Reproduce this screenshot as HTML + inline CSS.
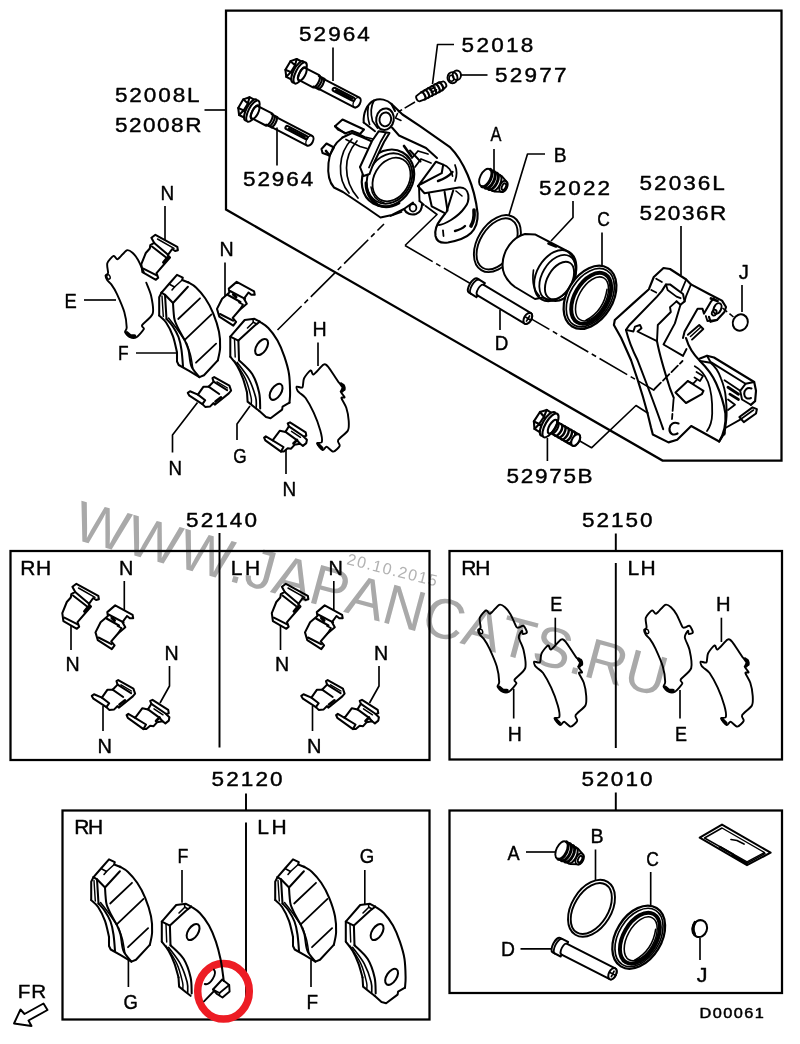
<!DOCTYPE html>
<html><head><meta charset="utf-8"><title>52008 brake caliper diagram</title>
<style>
html,body{margin:0;padding:0;background:#fff}
svg{display:block;will-change:transform}
svg text{font-family:"Liberation Sans",sans-serif;fill:#000;stroke:none}
svg text.l{stroke:#000;stroke-width:.4px}
</style></head><body>
<svg width="800" height="1044" viewBox="0 0 800 1044" fill="none" stroke="#000" stroke-width="1.80" stroke-linejoin="round" stroke-linecap="round">
<rect x="0" y="0" width="800" height="1044" fill="#fff" stroke="none"/>
<text transform="translate(71,538.5) rotate(15.05)" font-size="57" style="fill:#a9a9a9;font-kerning:none">WWW.JAPANCATS.RU</text>
<text transform="translate(346.1,564) rotate(14.1)" font-size="16" letter-spacing="1.35" style="fill:#b2b2b2;font-kerning:none">20.10.2015</text>
<g style="stroke-width:2.25px" stroke-linejoin="miter" stroke-linecap="butt">
<path d="M226 10.5 L781.5 10.5 L781.5 460.5 L662.5 460.5 L226 209.5Z"/>
<rect x="10.5" y="551" width="419" height="209"/>
<rect x="449.5" y="551" width="332.5" height="208.5"/>
<rect x="62.5" y="810.5" width="367" height="209"/>
<rect x="449.5" y="810.5" width="332.5" height="182.5"/>
</g>
<g style="stroke-width:1.95px" stroke-linecap="butt">
<path d="M219.5 533 L219.5 747.5"/>
<path d="M615.8 533.5 L615.8 551"/>
<path d="M615.8 563 L615.8 748"/>
<path d="M246 793.5 L246 810.5"/>
<path d="M246 822.5 L246 1005"/>
<path d="M615.8 792.5 L615.8 810.5"/>
</g>
<text class="l" transform="translate(300.00,40.50) scale(1.160,1)" x="-0.78" y="0" font-size="19.42" letter-spacing="1.72">52964</text>
<text class="l" transform="translate(244.00,186.20) scale(1.160,1)" x="-0.78" y="0" font-size="19.42" letter-spacing="1.61">52964</text>
<text class="l" transform="translate(115.80,102.30) scale(1.160,1)" x="-0.78" y="0" font-size="19.42" letter-spacing="1.65">52008L</text>
<text class="l" transform="translate(115.80,132.20) scale(1.160,1)" x="-0.78" y="0" font-size="19.42" letter-spacing="1.32">52008R</text>
<text class="l" transform="translate(462.50,51.60) scale(1.160,1)" x="-0.78" y="0" font-size="19.42" letter-spacing="1.98">52018</text>
<text class="l" transform="translate(496.00,82.20) scale(1.160,1)" x="-0.78" y="0" font-size="19.42" letter-spacing="1.92">52977</text>
<text class="l" transform="translate(490.50,141.20) scale(0.843,1)" x="-0.10" y="0" font-size="19.42" letter-spacing="0.00">A</text>
<text class="l" transform="translate(555.20,162.40) scale(0.991,1)" x="-1.55" y="0" font-size="19.42" letter-spacing="0.00">B</text>
<text class="l" transform="translate(540.00,195.20) scale(1.160,1)" x="-0.78" y="0" font-size="19.42" letter-spacing="1.82">52022</text>
<text class="l" transform="translate(598.00,225.80) scale(0.899,1)" x="-0.97" y="0" font-size="19.42" letter-spacing="0.00">C</text>
<text class="l" transform="translate(640.50,190.20) scale(1.160,1)" x="-0.78" y="0" font-size="19.42" letter-spacing="1.72">52036L</text>
<text class="l" transform="translate(640.50,219.80) scale(1.160,1)" x="-0.78" y="0" font-size="19.42" letter-spacing="1.36">52036R</text>
<text class="l" transform="translate(739.00,279.00) scale(1.042,1)" x="-0.29" y="0" font-size="19.42" letter-spacing="0.00">J</text>
<text class="l" transform="translate(496.30,350.40) scale(0.969,1)" x="-1.55" y="0" font-size="19.42" letter-spacing="0.00">D</text>
<text class="l" transform="translate(507.50,482.50) scale(1.160,1)" x="-0.78" y="0" font-size="19.42" letter-spacing="1.45">52975B</text>
<text class="l" transform="translate(162.00,200.00) scale(0.975,1)" x="-1.55" y="0" font-size="19.42" letter-spacing="0.00">N</text>
<text class="l" transform="translate(221.00,256.20) scale(1.011,1)" x="-1.55" y="0" font-size="19.42" letter-spacing="0.00">N</text>
<text class="l" transform="translate(66.00,308.00) scale(0.945,1)" x="-1.55" y="0" font-size="19.42" letter-spacing="0.00">E</text>
<text class="l" transform="translate(119.50,360.40) scale(0.893,1)" x="-1.55" y="0" font-size="19.42" letter-spacing="0.00">F</text>
<text class="l" transform="translate(314.00,336.00) scale(1.011,1)" x="-1.55" y="0" font-size="19.42" letter-spacing="0.00">H</text>
<text class="l" transform="translate(234.00,462.50) scale(0.888,1)" x="-0.97" y="0" font-size="19.42" letter-spacing="0.00">G</text>
<text class="l" transform="translate(170.00,475.00) scale(0.965,1)" x="-1.55" y="0" font-size="19.42" letter-spacing="0.00">N</text>
<text class="l" transform="translate(284.00,496.00) scale(0.975,1)" x="-1.55" y="0" font-size="19.42" letter-spacing="0.00">N</text>
<text class="l" transform="translate(187.00,527.00) scale(1.160,1)" x="-0.78" y="0" font-size="19.42" letter-spacing="1.77">52140</text>
<text class="l" transform="translate(22.00,575.40) scale(1.080,1)" x="-1.55" y="0" font-size="19.42" letter-spacing="0.57">RH</text>
<text class="l" transform="translate(232.30,575.40) scale(1.080,1)" x="-1.55" y="0" font-size="19.42" letter-spacing="2.59">LH</text>
<text class="l" transform="translate(120.70,575.00) scale(1.021,1)" x="-1.55" y="0" font-size="19.42" letter-spacing="0.00">N</text>
<text class="l" transform="translate(67.00,671.00) scale(1.011,1)" x="-1.55" y="0" font-size="19.42" letter-spacing="0.00">N</text>
<text class="l" transform="translate(166.00,660.00) scale(1.011,1)" x="-1.55" y="0" font-size="19.42" letter-spacing="0.00">N</text>
<text class="l" transform="translate(99.20,753.00) scale(1.030,1)" x="-1.55" y="0" font-size="19.42" letter-spacing="0.00">N</text>
<text class="l" transform="translate(330.20,575.00) scale(1.021,1)" x="-1.55" y="0" font-size="19.42" letter-spacing="0.00">N</text>
<text class="l" transform="translate(276.50,671.00) scale(1.011,1)" x="-1.55" y="0" font-size="19.42" letter-spacing="0.00">N</text>
<text class="l" transform="translate(375.50,660.00) scale(1.011,1)" x="-1.55" y="0" font-size="19.42" letter-spacing="0.00">N</text>
<text class="l" transform="translate(308.70,753.00) scale(1.030,1)" x="-1.55" y="0" font-size="19.42" letter-spacing="0.00">N</text>
<text class="l" transform="translate(583.00,526.60) scale(1.160,1)" x="-0.78" y="0" font-size="19.42" letter-spacing="1.66">52150</text>
<text class="l" transform="translate(462.80,575.30) scale(1.080,1)" x="-1.55" y="0" font-size="19.42" letter-spacing="-1.01">RH</text>
<text class="l" transform="translate(629.20,575.30) scale(1.080,1)" x="-1.55" y="0" font-size="19.42" letter-spacing="1.29">LH</text>
<text class="l" transform="translate(551.70,611.20) scale(0.926,1)" x="-1.55" y="0" font-size="19.42" letter-spacing="0.00">E</text>
<text class="l" transform="translate(509.30,741.00) scale(1.002,1)" x="-1.55" y="0" font-size="19.42" letter-spacing="0.00">H</text>
<text class="l" transform="translate(717.70,611.20) scale(1.039,1)" x="-1.55" y="0" font-size="19.42" letter-spacing="0.00">H</text>
<text class="l" transform="translate(676.40,741.00) scale(0.926,1)" x="-1.55" y="0" font-size="19.42" letter-spacing="0.00">E</text>
<text class="l" transform="translate(212.50,786.20) scale(1.160,1)" x="-0.78" y="0" font-size="19.42" letter-spacing="1.81">52120</text>
<text class="l" transform="translate(76.00,834.40) scale(1.080,1)" x="-1.55" y="0" font-size="19.42" letter-spacing="-1.29">RH</text>
<text class="l" transform="translate(259.00,834.40) scale(1.080,1)" x="-1.55" y="0" font-size="19.42" letter-spacing="2.40">LH</text>
<text class="l" transform="translate(178.80,863.00) scale(0.914,1)" x="-1.55" y="0" font-size="19.42" letter-spacing="0.00">F</text>
<text class="l" transform="translate(124.40,1009.40) scale(0.951,1)" x="-0.97" y="0" font-size="19.42" letter-spacing="0.00">G</text>
<text class="l" transform="translate(360.60,863.20) scale(0.959,1)" x="-0.97" y="0" font-size="19.42" letter-spacing="0.00">G</text>
<text class="l" transform="translate(308.00,1009.20) scale(0.977,1)" x="-1.55" y="0" font-size="19.42" letter-spacing="0.00">F</text>
<text class="l" transform="translate(19.40,998.00) scale(1.080,1)" x="-1.53" y="0" font-size="19.13" letter-spacing="0.91">FR</text>
<text class="l" transform="translate(582.50,786.40) scale(1.160,1)" x="-0.78" y="0" font-size="19.42" letter-spacing="1.81">52010</text>
<text class="l" transform="translate(507.50,860.00) scale(0.936,1)" x="-0.10" y="0" font-size="19.42" letter-spacing="0.00">A</text>
<text class="l" transform="translate(592.00,843.00) scale(1.011,1)" x="-1.55" y="0" font-size="19.42" letter-spacing="0.00">B</text>
<text class="l" transform="translate(647.00,865.60) scale(0.899,1)" x="-0.97" y="0" font-size="19.42" letter-spacing="0.00">C</text>
<text class="l" transform="translate(502.50,956.00) scale(0.995,1)" x="-1.55" y="0" font-size="19.42" letter-spacing="0.00">D</text>
<text class="l" transform="translate(697.00,982.00) scale(1.105,1)" x="-0.29" y="0" font-size="19.42" letter-spacing="0.00">J</text>
<text class="l" transform="translate(700.80,1017.60) scale(1.070,1)" x="-1.22" y="0" font-size="15.22" letter-spacing="1.37" style="stroke:#000;stroke-width:0.5px">D00061</text>
<g style="stroke-width:1.65px" stroke-linecap="butt">
<path d="M333 47.5 L333 81"/>
<path d="M277 127.5 L277 165.5"/>
<path d="M204.5 110 L226 110"/>
<path d="M454 44.5 L437.5 44.5 L432.5 84"/>
<path d="M461 75 L487.5 75"/>
<path d="M494 149 L494 170"/>
<path d="M545 154 L527.5 154 L509 215"/>
<path d="M573 201 L573 217.5 L551 241"/>
<path d="M602 232.5 L602 266"/>
<path d="M681 226 L681 275"/>
<path d="M742 285 L742 312"/>
<path d="M500 310 L500 330"/>
<path d="M547.4 438 L547.4 461"/>
<path d="M165 206 L165 240"/>
<path d="M225 262.5 L225 296"/>
<path d="M84 300 L116 300"/>
<path d="M136 353 L176 353"/>
<path d="M318 342.5 L318 366"/>
<path d="M250 406 L237 424 L237 440"/>
<path d="M197.5 402.5 L172.5 435 L172.5 452.5"/>
<path d="M286 450 L286 474"/>
<path d="M124.3 581 L124.3 610"/>
<path d="M71 625 L71 650"/>
<path d="M169.5 666 L169.5 686 L160 703"/>
<path d="M103 706 L103 731"/>
<path d="M333.8 581 L333.8 610"/>
<path d="M280.5 625 L280.5 650"/>
<path d="M379 666 L379 686 L369.5 703"/>
<path d="M312.5 706 L312.5 731"/>
<path d="M555.3 617.7 L555.3 644.8"/>
<path d="M513.7 688.8 L513.7 718.5"/>
<path d="M721.4 617.7 L721.4 642"/>
<path d="M680 690 L680 718.5"/>
<path d="M182 870 L182 902.8"/>
<path d="M128.4 959 L128.4 987"/>
<path d="M364.8 870 L364.8 904.8"/>
<path d="M311 959.8 L311 987"/>
<path d="M526 852 L556 852"/>
<path d="M595.5 849.5 L595.5 880"/>
<path d="M650.7 872 L650.7 905"/>
<path d="M520.5 948.8 L552.5 948.8"/>
<path d="M700 938 L700 960"/>
</g>
<g style="stroke-width:1.6px" stroke-linecap="butt">
<path d="M277.5 330 L384 224" stroke-dasharray="34 4 5 4"/>
<path d="M405 245.5 L654.5 390.5" stroke-dasharray="32 4 5 4"/>
<path d="M425 205.5 L437 214.5 L405 245.5"/>
<path d="M579 440.5 L591.5 447.8 L636 405.5 L648.4 413.5"/>
<path d="M415 102 L398 112" stroke-dasharray="12 3"/>
<path d="M722.5 308 L733.5 317" stroke-dasharray="6 3"/>
</g>
<ellipse cx="223.5" cy="991.3" rx="25.8" ry="27.8" stroke="#ed1c24" stroke-width="7.5"/>
<path d="M72.4 586.8 L76.4 583.8 L98.3 595.8 L98.9 599.2 L96.1 600 L93.2 598 L88.8 604.2 L91 606.5 L77.5 622.2 L79.2 626.8 L76.9 628.8 L63.4 621.1 L62.3 613.2 L66.8 602 L70.8 597.5 L71.3 594.1 L75.2 591.9Z" stroke-width="2.04"/>
<path d="M75.2 591.9 L88.8 603.6" stroke-width="2.04"/>
<path d="M73 595.5 L86.5 606" stroke-width="2.04"/>
<path d="M64.4 617.6 L77.7 624.3" stroke-width="2.04"/>
<path d="M78.5 588 L95 597.3" stroke-width="1.44"/>
<path d="M84.5 611.5 L88.6 606.5" stroke-width="2.88"/>
<path d="M107.3 612.1 L115.2 605.4 L132.6 614.9 L133.2 618.3 L129.8 618.3 L127 616 L122.5 622.2 L125.3 627.3 L118 633.5 L111.2 641.4 L114.6 645.3 L111.8 649.2 L97.8 640.2 L95.5 632.4 L100.6 622.2 L107.9 616Z" stroke-width="2.04"/>
<path d="M108.5 614.5 L123.6 622.3" stroke-width="2.04"/>
<path d="M106.5 618.5 L119 625.5" stroke-width="2.04"/>
<path d="M98.5 637.5 L111.5 644.2" stroke-width="2.04"/>
<path d="M117.5 626 L121.5 628 L118 633.5" stroke-width="1.68"/>
<path d="M112 618 L114.5 620.5" stroke-width="3.12"/>
<path d="M91.8 695.9 L94 694.2 L101.9 697.6 L107.5 689.7 L112.6 689.7 L117.6 684.6 L116.5 681.2 L118.2 680.1 L133.4 688.6 L135.1 693.6 L132.8 696.4 L118.8 707.7 L117.6 706 L114.2 709.4 L109.2 709.9 L106.4 707.1 L93.4 698.7Z" stroke-width="2.04"/>
<path d="M101.9 697.6 L109.2 703.2 L106.4 707.1" stroke-width="2.04"/>
<path d="M112.6 689.7 L123.2 697" stroke-width="2.04"/>
<path d="M117.6 684.6 L131.1 693.1" stroke-width="2.04"/>
<path d="M121 684.8 L131.5 691" stroke-width="1.44"/>
<path d="M119.5 704.5 L125 700.3" stroke-width="2.64"/>
<path d="M126.6 715 L128.3 713.9 L135.1 717.8 L142.4 708.2 L148 709.4 L151.4 703.8 L150.2 700.9 L152.5 699.8 L168.2 709.9 L168.8 713.3 L166 713.9 L169.4 717.2 L168.8 720.6 L165.4 723.4 L162.6 721.2 L157 722.3 L153.6 726.2 L150.2 725.7 L146.3 729.1 L143.5 729.1 L127.8 717.8Z" stroke-width="2.04"/>
<path d="M135.1 717.8 L146 724.5 L143.5 729.1" stroke-width="2.04"/>
<path d="M148 709.4 L159 717.3 L162.6 721.2" stroke-width="2.04"/>
<path d="M151.4 703.8 L165.5 713.5" stroke-width="2.04"/>
<path d="M154 708.8 L163 714.8" stroke-width="1.44"/>
<path d="M156 721 L159.5 717.5" stroke-width="2.64"/>
<path d="M281.9 586.8 L285.9 583.8 L307.8 595.8 L308.4 599.2 L305.6 600 L302.7 598 L298.3 604.2 L300.5 606.5 L287 622.2 L288.7 626.8 L286.4 628.8 L272.9 621.1 L271.8 613.2 L276.3 602 L280.3 597.5 L280.8 594.1 L284.7 591.9Z" stroke-width="2.04"/>
<path d="M284.7 591.9 L298.3 603.6" stroke-width="2.04"/>
<path d="M282.5 595.5 L296 606" stroke-width="2.04"/>
<path d="M273.9 617.6 L287.2 624.3" stroke-width="2.04"/>
<path d="M288 588 L304.5 597.3" stroke-width="1.44"/>
<path d="M294 611.5 L298.1 606.5" stroke-width="2.88"/>
<path d="M316.8 612.1 L324.7 605.4 L342.1 614.9 L342.7 618.3 L339.3 618.3 L336.5 616 L332 622.2 L334.8 627.3 L327.5 633.5 L320.7 641.4 L324.1 645.3 L321.3 649.2 L307.3 640.2 L305 632.4 L310.1 622.2 L317.4 616Z" stroke-width="2.04"/>
<path d="M318 614.5 L333.1 622.3" stroke-width="2.04"/>
<path d="M316 618.5 L328.5 625.5" stroke-width="2.04"/>
<path d="M308 637.5 L321 644.2" stroke-width="2.04"/>
<path d="M327 626 L331 628 L327.5 633.5" stroke-width="1.68"/>
<path d="M321.5 618 L324 620.5" stroke-width="3.12"/>
<path d="M301.3 695.9 L303.5 694.2 L311.4 697.6 L317 689.7 L322.1 689.7 L327.1 684.6 L326 681.2 L327.7 680.1 L342.9 688.6 L344.6 693.6 L342.3 696.4 L328.3 707.7 L327.1 706 L323.7 709.4 L318.7 709.9 L315.9 707.1 L302.9 698.7Z" stroke-width="2.04"/>
<path d="M311.4 697.6 L318.7 703.2 L315.9 707.1" stroke-width="2.04"/>
<path d="M322.1 689.7 L332.7 697" stroke-width="2.04"/>
<path d="M327.1 684.6 L340.6 693.1" stroke-width="2.04"/>
<path d="M330.5 684.8 L341 691" stroke-width="1.44"/>
<path d="M329 704.5 L334.5 700.3" stroke-width="2.64"/>
<path d="M336.1 715 L337.8 713.9 L344.6 717.8 L351.9 708.2 L357.5 709.4 L360.9 703.8 L359.7 700.9 L362 699.8 L377.7 709.9 L378.3 713.3 L375.5 713.9 L378.9 717.2 L378.3 720.6 L374.9 723.4 L372.1 721.2 L366.5 722.3 L363.1 726.2 L359.7 725.7 L355.8 729.1 L353 729.1 L337.3 717.8Z" stroke-width="2.04"/>
<path d="M344.6 717.8 L355.5 724.5 L353 729.1" stroke-width="2.04"/>
<path d="M357.5 709.4 L368.5 717.3 L372.1 721.2" stroke-width="2.04"/>
<path d="M360.9 703.8 L375 713.5" stroke-width="2.04"/>
<path d="M363.5 708.8 L372.5 714.8" stroke-width="1.44"/>
<path d="M365.5 721 L369 717.5" stroke-width="2.64"/>
<path d="M151.4 237.8 L155.4 234.8 L177.3 246.8 L177.9 250.2 L175.1 251 L172.2 249 L167.8 255.2 L170 257.5 L156.5 273.2 L158.2 277.8 L155.9 279.8 L142.4 272.1 L141.3 264.2 L145.8 253 L149.8 248.5 L150.3 245.1 L154.2 242.9Z" stroke-width="2.04"/>
<path d="M154.2 242.9 L167.8 254.6" stroke-width="2.04"/>
<path d="M152 246.5 L165.5 257" stroke-width="2.04"/>
<path d="M143.4 268.6 L156.7 275.3" stroke-width="2.04"/>
<path d="M157.5 239 L174 248.3" stroke-width="1.44"/>
<path d="M163.5 262.5 L167.6 257.5" stroke-width="2.88"/>
<path d="M228.8 288.6 L236.7 281.9 L254.1 291.4 L254.7 294.8 L251.3 294.8 L248.5 292.5 L244 298.7 L246.8 303.8 L239.5 310 L232.7 317.9 L236.1 321.8 L233.3 325.7 L219.3 316.7 L217 308.9 L222.1 298.7 L229.4 292.5Z" stroke-width="2.04"/>
<path d="M230 291 L245.1 298.8" stroke-width="2.04"/>
<path d="M228 295 L240.5 302" stroke-width="2.04"/>
<path d="M220 314 L233 320.7" stroke-width="2.04"/>
<path d="M239 302.5 L243 304.5 L239.5 310" stroke-width="1.68"/>
<path d="M233.5 294.5 L236 297" stroke-width="3.12"/>
<path d="M187.8 392.9 L190 391.2 L197.9 394.6 L203.5 386.7 L208.6 386.7 L213.6 381.6 L212.5 378.2 L214.2 377.1 L229.4 385.6 L231.1 390.6 L228.8 393.4 L214.8 404.7 L213.6 403 L210.2 406.4 L205.2 406.9 L202.4 404.1 L189.4 395.7Z" stroke-width="2.04"/>
<path d="M197.9 394.6 L205.2 400.2 L202.4 404.1" stroke-width="2.04"/>
<path d="M208.6 386.7 L219.2 394" stroke-width="2.04"/>
<path d="M213.6 381.6 L227.1 390.1" stroke-width="2.04"/>
<path d="M217 381.8 L227.5 388" stroke-width="1.44"/>
<path d="M215.5 401.5 L221 397.3" stroke-width="2.64"/>
<path d="M264.1 437.5 L265.8 436.4 L272.6 440.3 L279.9 430.7 L285.5 431.9 L288.9 426.3 L287.7 423.4 L290 422.3 L305.7 432.4 L306.3 435.8 L303.5 436.4 L306.9 439.7 L306.3 443.1 L302.9 445.9 L300.1 443.7 L294.5 444.8 L291.1 448.7 L287.7 448.2 L283.8 451.6 L281 451.6 L265.3 440.3Z" stroke-width="2.04"/>
<path d="M272.6 440.3 L283.5 447 L281 451.6" stroke-width="2.04"/>
<path d="M285.5 431.9 L296.5 439.8 L300.1 443.7" stroke-width="2.04"/>
<path d="M288.9 426.3 L303 436" stroke-width="2.04"/>
<path d="M291.5 431.3 L300.5 437.3" stroke-width="1.44"/>
<path d="M293.5 443.5 L297 440" stroke-width="2.64"/>
<path d="M479.8 617.8 C480.5 615.5 484.8 610.9 486.2 610.4 C487.6 609.9 488.6 614.4 490.3 613.7 C492 613 497.2 605.7 499.2 604.8 C501.2 603.9 503.5 605.9 505 607.2 C506.5 608.5 509.1 611.9 510.6 614.5 C512.1 617.1 515.2 625 516.3 626.7 C517.4 628.4 517.8 627.6 518.8 627.5 C519.8 627.4 522.5 625.2 523.6 625.9 C524.7 626.6 527 631.3 526.9 632.4 C526.8 633.5 523.5 634.2 522.8 634 C522.1 633.8 522.5 630.4 522 630.8 C521.5 631.2 518.6 634.6 518.8 637.2 C519 639.8 522.7 646.1 523.6 650.2 C524.5 654.3 526.4 664.2 525.2 668.1 C524 672 515.9 677.4 514.7 679.5 C513.5 681.6 517.1 682 516.3 683.6 C515.5 685.2 510.8 690.6 509 691.7 C507.2 692.8 504 692.4 502.5 691.7 C501 691 498 688.1 497.6 686.8 C497.2 685.5 499.3 684.6 499.2 681.9 C499.1 679.2 498.1 670.9 496.8 666.5 C495.5 662.1 491.2 652.3 489.5 648.6 C487.8 644.9 485.1 640.7 483.8 638.9 C482.5 637.1 480.6 636 479.8 634.8 C479 633.6 478 630.9 478.1 629.9 C478.2 628.9 480.4 629.1 480.6 627.5 C480.8 625.9 479.1 620.1 479.8 617.8Z" stroke-width="1.92"/>
<ellipse cx="481" cy="631.5" rx="1.6" ry="2.2" transform="rotate(-20 481 631.5)" stroke-width="1.44"/>
<path d="M499.5 687.5 L503 690.5 L507 690.5" stroke-width="3.60"/>
<path d="M534.2 661.6 C534.9 661.2 538.9 663.5 539.9 662.4 C540.9 661.3 540.4 655.8 541.5 653.5 C542.6 651.2 546.7 645.9 548 645.4 C549.3 644.9 549.5 650.2 551.2 649.4 C552.9 648.6 559 640.7 561 639.7 C563 638.7 563.8 639.7 565.9 642.1 C568 644.5 574.3 655.2 576.4 657.6 C578.5 660 580.5 659 581.3 660 C582.1 661 582.5 664 582.1 664.9 C581.7 665.8 578.1 665.5 578.1 666.5 C578.1 667.5 582 671.3 582.1 672.2 C582.2 673.1 578.7 671.6 578.9 673 C579.1 674.4 582.8 679.8 583.8 682.8 C584.8 685.8 586 692.8 586.2 695.8 C586.4 698.8 586.8 702.9 585.4 705.5 C584 708.1 576.7 713.1 575.6 715.2 C574.5 717.3 577.8 719.4 577.2 720.9 C576.6 722.4 572.5 726.5 570.8 726.6 C569.1 726.7 565.6 722 564.2 721.8 C562.8 721.6 561.5 725.4 560.2 725 C558.9 724.6 554.6 719.6 554.5 718.5 C554.4 717.4 559 718.6 559.4 716.9 C559.8 715.2 558.9 709.4 557.8 705.5 C556.7 701.6 553.2 691.9 551.2 687.6 C549.2 683.3 544.9 675.6 543.1 673 C541.3 670.4 538.5 669.1 537.4 668.1 C536.3 667.1 535.4 666.6 535 665.7 C534.6 664.8 533.5 662 534.2 661.6Z" stroke-width="1.92"/>
<path d="M578.5 659 L581 662.5 L579.5 666" stroke-width="3.36"/>
<path d="M556 719.5 L559.5 723" stroke-width="3.12"/>
<path d="M645.8 617.8 C646.5 615.5 650.8 610.9 652.2 610.4 C653.6 609.9 654.6 614.4 656.3 613.7 C658 613 663.2 605.7 665.2 604.8 C667.2 603.9 669.5 605.9 671 607.2 C672.5 608.5 675.1 611.9 676.6 614.5 C678.1 617.1 681.2 625 682.3 626.7 C683.4 628.4 683.8 627.6 684.8 627.5 C685.8 627.4 688.5 625.2 689.6 625.9 C690.7 626.6 693 631.3 692.9 632.4 C692.8 633.5 689.5 634.2 688.8 634 C688.1 633.8 688.5 630.4 688 630.8 C687.5 631.2 684.6 634.6 684.8 637.2 C685 639.8 688.7 646.1 689.6 650.2 C690.5 654.3 692.4 664.2 691.2 668.1 C690 672 681.9 677.4 680.7 679.5 C679.5 681.6 683.1 682 682.3 683.6 C681.5 685.2 676.8 690.6 675 691.7 C673.2 692.8 670 692.4 668.5 691.7 C667 691 664 688.1 663.6 686.8 C663.2 685.5 665.3 684.6 665.2 681.9 C665.1 679.2 664.1 670.9 662.8 666.5 C661.5 662.1 657.2 652.3 655.5 648.6 C653.8 644.9 651.1 640.7 649.8 638.9 C648.5 637.1 646.6 636 645.8 634.8 C645 633.6 644 630.9 644.1 629.9 C644.2 628.9 646.4 629.1 646.6 627.5 C646.8 625.9 645.1 620.1 645.8 617.8Z" stroke-width="1.92"/>
<ellipse cx="647" cy="631.5" rx="1.6" ry="2.2" transform="rotate(-20 647 631.5)" stroke-width="1.44"/>
<path d="M665.5 687.5 L669 690.5 L673 690.5" stroke-width="3.60"/>
<path d="M700.7 661.6 C701.4 661.2 705.4 663.5 706.4 662.4 C707.4 661.3 706.9 655.8 708 653.5 C709.1 651.2 713.2 645.9 714.5 645.4 C715.8 644.9 716 650.2 717.7 649.4 C719.4 648.6 725.5 640.7 727.5 639.7 C729.5 638.7 730.3 639.7 732.4 642.1 C734.5 644.5 740.8 655.2 742.9 657.6 C745 660 747 659 747.8 660 C748.6 661 749 664 748.6 664.9 C748.2 665.8 744.6 665.5 744.6 666.5 C744.6 667.5 748.5 671.3 748.6 672.2 C748.7 673.1 745.2 671.6 745.4 673 C745.6 674.4 749.3 679.8 750.3 682.8 C751.3 685.8 752.5 692.8 752.7 695.8 C752.9 698.8 753.3 702.9 751.9 705.5 C750.5 708.1 743.2 713.1 742.1 715.2 C741 717.3 744.3 719.4 743.7 720.9 C743.1 722.4 739 726.5 737.3 726.6 C735.6 726.7 732.1 722 730.7 721.8 C729.3 721.6 728 725.4 726.7 725 C725.4 724.6 721.1 719.6 721 718.5 C720.9 717.4 725.5 718.6 725.9 716.9 C726.3 715.2 725.4 709.4 724.3 705.5 C723.2 701.6 719.7 691.9 717.7 687.6 C715.7 683.3 711.4 675.6 709.6 673 C707.8 670.4 705 669.1 703.9 668.1 C702.8 667.1 701.9 666.6 701.5 665.7 C701.1 664.8 700 662 700.7 661.6Z" stroke-width="1.92"/>
<path d="M745 659 L747.5 662.5 L746 666" stroke-width="3.36"/>
<path d="M722.5 719.5 L726 723" stroke-width="3.12"/>
<path d="M146.3 282.7 C146.9 284.4 150.2 291.6 151.1 295.7 C152 299.8 153.9 309.7 152.7 313.6 C151.5 317.5 143.4 322.9 142.2 325 C141 327.1 144.6 327.5 143.8 329.1 C143 330.7 138.3 336.1 136.5 337.2 C134.7 338.3 131.5 337.9 130 337.2 C128.5 336.5 125.5 333.6 125.1 332.3 C124.7 331 126.8 330.1 126.7 327.4 C126.6 324.7 125.6 316.4 124.3 312 C123 307.6 118.7 297.8 117 294.1 C115.3 290.4 112.6 286.2 111.3 284.4 C110 282.6 108.1 281.5 107.3 280.3 C106.5 279.1 105.5 276.4 105.6 275.4 C105.7 274.4 107.9 274.6 108.1 273 C108.3 271.4 106.6 265.6 107.3 263.3 C108 261 112.3 256.4 113.7 255.9 C115.1 255.4 116.1 259.9 117.8 259.2 C119.5 258.5 124.7 251.2 126.7 250.3 C128.7 249.4 131 251.4 132.5 252.7 C134 254 136.6 257.4 138.1 260 C139.6 262.6 143 270.6 143.8 272.2" stroke-width="1.92"/>
<ellipse cx="108.5" cy="277" rx="1.6" ry="2.2" transform="rotate(-20 108.5 277)" stroke-width="1.44"/>
<path d="M127 333 L130.5 336 L134.5 336" stroke-width="3.60"/>
<path d="M296.7 386.6 C297.4 386.2 301.4 388.5 302.4 387.4 C303.4 386.3 302.9 380.8 304 378.5 C305.1 376.2 309.2 370.9 310.5 370.4 C311.8 369.9 312 375.2 313.7 374.4 C315.4 373.6 321.5 365.7 323.5 364.7 C325.5 363.7 326.3 364.7 328.4 367.1 C330.5 369.5 336.8 380.2 338.9 382.6 C341 385 343 384 343.8 385 C344.6 386 345 389 344.6 389.9 C344.2 390.8 340.6 390.5 340.6 391.5 C340.6 392.5 344.5 396.3 344.6 397.2 C344.7 398.1 341.2 396.6 341.4 398 C341.6 399.4 345.3 404.8 346.3 407.8 C347.3 410.8 348.5 417.8 348.7 420.8 C348.9 423.8 349.3 427.9 347.9 430.5 C346.5 433.1 339.2 438.1 338.1 440.2 C337 442.3 340.3 444.4 339.7 445.9 C339.1 447.4 335 451.5 333.3 451.6 C331.6 451.7 328.1 447 326.7 446.8 C325.3 446.6 324 450.4 322.7 450 C321.4 449.6 317.1 444.6 317 443.5 C316.9 442.4 321.5 443.6 321.9 441.9 C322.3 440.2 321.4 434.4 320.3 430.5 C319.2 426.6 315.7 416.9 313.7 412.6 C311.7 408.3 307.4 400.6 305.6 398 C303.8 395.4 301 394.1 299.9 393.1 C298.8 392.1 297.9 391.6 297.5 390.7 C297.1 389.8 296 387 296.7 386.6Z" stroke-width="1.92"/>
<path d="M341 384 L343.5 387.5 L342 391" stroke-width="3.36"/>
<path d="M318.5 444.5 L322 448" stroke-width="3.12"/>
<path d="M161.5 292.6 L169 284 L177 274.8 L182.8 277.6 L182.2 280 L187.9 282.2" stroke-width="2.04"/>
<path d="M187.9 282.2 C189.2 283.1 193.1 284.7 196 287.4 C198.9 290.1 202.3 294 205.2 298.3 C208.1 302.6 210.9 307.7 213.2 313.3 C215.5 318.9 217.8 325.9 219 331.7 C220.2 337.4 220.3 343 220.1 347.8 C219.9 352.6 218.2 358.3 217.8 360.4" stroke-width="2.04"/>
<path d="M217.8 360.4 L204 375.3 L199.4 377.1 L189.1 370.8 L178.7 365 L177 361.5 L177 352.4" stroke-width="2.04"/>
<path d="M177 352.4 C176.3 349.7 174.8 341.3 173 336.3 C171.2 331.3 168.4 325.9 166.1 322.5 C163.8 319.1 160.3 316.8 159.2 315.6" stroke-width="2.04"/>
<path d="M159.2 315.6 L159.2 297.2 L161.5 292.6" stroke-width="2.04"/>
<path d="M169 284 L174.5 287 L182.2 280" stroke-width="1.56"/>
<path d="M174.5 287 L172 290" stroke-width="1.56"/>
<path d="M161.5 292.6 L165 294.8 L173 303 L187.9 286.8" stroke-width="2.04"/>
<path d="M165 294.8 L166.5 319" stroke-width="2.04"/>
<path d="M162 296 L163.3 316.5" stroke-width="1.44"/>
<path d="M173 303 C173.1 304.5 173.3 309.1 173.6 312 C173.9 314.9 173.8 317.2 174.7 320.2 C175.6 323.2 177.4 326.8 179 330 C180.6 333.2 183.6 338.1 184.5 339.7" stroke-width="2.04"/>
<path d="M166.5 319 C167.5 320.2 170.5 323 172.5 326 C174.5 329 177 333 178.5 337 C180 341 180.8 345.1 181.5 350 C182.2 354.9 182.8 363.8 183 366.5" stroke-width="2.04"/>
<path d="M168.5 318 C169.7 319.5 172.8 323.4 175.5 327 C178.2 330.6 183 337.6 184.5 339.7" stroke-width="1.56"/>
<path d="M184.5 339.7 C185.2 341.4 187.3 345.6 188.5 350 C189.7 354.4 189.6 361.6 191.4 366.1 C193.2 370.6 198.1 375.3 199.4 377.1" stroke-width="2.04"/>
<path d="M186.5 343 C187.2 345 189.4 350.8 190.5 355 C191.6 359.2 192.4 365.8 192.8 368" stroke-width="1.44"/>
<path d="M178.2 319 L200 298.3" stroke-width="1.80"/>
<path d="M185 339.7 L211.5 314.4" stroke-width="1.80"/>
<path d="M196 362.7 L216.1 343.7" stroke-width="1.80"/>
<path d="M230.3 356.7 L230.3 336.6 L244.7 320 L254.5 318.8 L259.7 321.7" stroke-width="2.04"/>
<path d="M259.7 321.7 C261.1 322.8 265.3 324.9 268.3 328 C271.3 331.1 274.8 335.8 277.5 340.6 C280.2 345.4 282.5 351.1 284.4 356.7 C286.3 362.3 288.1 368.1 289 374 C289.9 379.9 290 387.6 290.1 392.4 C290.2 397.2 289.6 401 289.5 402.7" stroke-width="2.04"/>
<path d="M289.5 402.7 L282.6 406.7 L282.1 409.6 L270.6 418.2 L266 417.1 L259.1 410.8" stroke-width="2.04"/>
<path d="M259.1 410.8 L254.5 407.3 L247.6 401.6 L247 392.4" stroke-width="2.04"/>
<path d="M247 392.4 C246.3 390.1 244.6 383 243 378.6 C241.4 374.2 239.3 369.5 237.2 365.9 C235.1 362.2 231.5 358.2 230.3 356.7" stroke-width="2.04"/>
<path d="M230.3 336.6 L238.4 340.6 L254.5 325.7 L259.7 321.7" stroke-width="2.04"/>
<path d="M238.4 340.6 L239 360.2" stroke-width="2.04"/>
<path d="M234.5 339 L235.2 357" stroke-width="1.44"/>
<path d="M247.5 328 L253.3 322.2 L256.8 324" stroke-width="1.56"/>
<path d="M253.3 322.2 L253 319.5" stroke-width="1.56"/>
<path d="M239 360.2 C241.2 362.5 248.8 368.6 252.2 374 C255.5 379.4 257.8 386.7 259.1 392.4 C260.4 398.1 260 405.7 260.2 408.4" stroke-width="2.04"/>
<path d="M237.2 362.5 C239.1 365.2 245.6 372.9 248.7 378.6 C251.8 384.4 254.3 392.2 255.6 397 C256.9 401.8 256.1 405.6 256.2 407.3" stroke-width="1.68"/>
<path d="M234.5 361 C236.3 363.9 242.6 372.6 245.3 378.6 C248.1 384.6 250 392.8 251 397 C252 401.2 251.2 402.8 251.3 404" stroke-width="1.44"/>
<ellipse cx="261.6" cy="347" rx="5" ry="9" transform="rotate(33 261.6 347)" stroke-width="2.04"/>
<ellipse cx="276.1" cy="391.8" rx="5" ry="9" transform="rotate(33 276.1 391.8)" stroke-width="2.04"/>
<path d="M93.5 877.1 L101 868.5 L109 859.3 L114.8 862.1 L114.2 864.5 L119.9 866.7" stroke-width="2.04"/>
<path d="M119.9 866.7 C121.2 867.6 125.1 869.2 128 871.9 C130.9 874.6 134.3 878.5 137.2 882.8 C140.1 887.1 142.9 892.2 145.2 897.8 C147.5 903.4 149.8 910.5 151 916.2 C152.2 922 152.3 927.5 152.1 932.3 C151.9 937.1 150.2 942.8 149.8 944.9" stroke-width="2.04"/>
<path d="M149.8 944.9 L136 959.8 L131.4 961.6 L121.1 955.3 L110.7 949.5 L109 946 L109 936.9" stroke-width="2.04"/>
<path d="M109 936.9 C108.3 934.2 106.8 925.8 105 920.8 C103.2 915.8 100.4 910.5 98.1 907 C95.8 903.5 92.3 901.2 91.2 900.1" stroke-width="2.04"/>
<path d="M91.2 900.1 L91.2 881.7 L93.5 877.1" stroke-width="2.04"/>
<path d="M101 868.5 L106.5 871.5 L114.2 864.5" stroke-width="1.56"/>
<path d="M106.5 871.5 L104 874.5" stroke-width="1.56"/>
<path d="M93.5 877.1 L97 879.3 L105 887.5 L119.9 871.3" stroke-width="2.04"/>
<path d="M97 879.3 L98.5 903.5" stroke-width="2.04"/>
<path d="M94 880.5 L95.3 901" stroke-width="1.44"/>
<path d="M105 887.5 C105.1 889 105.3 893.6 105.6 896.5 C105.9 899.4 105.8 901.7 106.7 904.7 C107.6 907.7 109.4 911.2 111 914.5 C112.6 917.8 115.6 922.6 116.5 924.2" stroke-width="2.04"/>
<path d="M98.5 903.5 C99.5 904.7 102.5 907.5 104.5 910.5 C106.5 913.5 109 917.5 110.5 921.5 C112 925.5 112.8 929.6 113.5 934.5 C114.2 939.4 114.8 948.2 115 951" stroke-width="2.04"/>
<path d="M100.5 902.5 C101.7 904 104.8 907.9 107.5 911.5 C110.2 915.1 115 922.1 116.5 924.2" stroke-width="1.56"/>
<path d="M116.5 924.2 C117.2 925.9 119.3 930.1 120.5 934.5 C121.7 938.9 121.6 946.1 123.4 950.6 C125.2 955.1 130.1 959.8 131.4 961.6" stroke-width="2.04"/>
<path d="M118.5 927.5 C119.2 929.5 121.5 935.3 122.5 939.5 C123.5 943.7 124.4 950.3 124.8 952.5" stroke-width="1.44"/>
<path d="M110.2 903.5 L132 882.8" stroke-width="1.80"/>
<path d="M117 924.2 L143.5 898.9" stroke-width="1.80"/>
<path d="M128 947.2 L148.1 928.2" stroke-width="1.80"/>
<path d="M161.8 941.7 L161.8 921.6 L176.2 905 L186 903.8 L191.2 906.7" stroke-width="2.04"/>
<path d="M191.2 906.7 C192.6 907.8 196.8 909.9 199.8 913 C202.8 916.1 206.3 920.8 209 925.6 C211.7 930.4 214 936.1 215.9 941.7 C217.8 947.3 219.3 953.5 220.5 959 C221.7 964.5 222.5 971.3 223 975 C223.5 978.7 223.6 980 223.7 981" stroke-width="2.04"/>
<path d="M190.6 995.8 L186 992.3 L179.1 986.6 L178.5 977.4" stroke-width="2.04"/>
<path d="M178.5 977.4 C177.8 975.1 176.1 968 174.5 963.6 C172.9 959.2 170.8 954.5 168.7 950.9 C166.6 947.2 163 943.2 161.8 941.7" stroke-width="2.04"/>
<path d="M161.8 921.6 L169.9 925.6 L186 910.7 L191.2 906.7" stroke-width="2.04"/>
<path d="M169.9 925.6 L170.5 945.2" stroke-width="2.04"/>
<path d="M166 924 L166.7 942" stroke-width="1.44"/>
<path d="M179 913 L184.8 907.2 L188.3 909" stroke-width="1.56"/>
<path d="M184.8 907.2 L184.5 904.5" stroke-width="1.56"/>
<path d="M170.5 945.2 C172.7 947.5 180.3 953.6 183.7 959 C187 964.4 189.3 971.7 190.6 977.4 C191.9 983.1 191.5 990.7 191.7 993.4" stroke-width="2.04"/>
<path d="M168.7 947.5 C170.6 950.2 177.1 957.9 180.2 963.6 C183.3 969.4 185.8 977.2 187.1 982 C188.3 986.8 187.6 990.6 187.7 992.3" stroke-width="1.68"/>
<path d="M166 946 C167.8 948.9 174.1 957.6 176.8 963.6 C179.6 969.6 181.5 977.8 182.5 982 C183.5 986.2 182.8 987.8 182.8 989" stroke-width="1.44"/>
<ellipse cx="193.1" cy="932" rx="5" ry="9" transform="rotate(33 193.1 932)" stroke-width="2.04"/>
<path d="M213.9 969.6 A4.6 8.6 32 0 1 204.8 984.0" stroke-width="1.92"/>
<path d="M222.2 979.5 L229.2 985 L229.6 991.5 L222.5 997.5 L217 994 L213 989.5 L222.2 979.5" stroke-width="1.92"/>
<path d="M213 989.5 L219.5 993 L229.2 985" stroke-width="1.68"/>
<path d="M219.5 993 L219.5 995.5" stroke-width="1.44"/>
<path d="M204 1001.4 L213.6 991.5" stroke-width="1.80"/>
<path d="M277.5 877.1 L285 868.5 L293 859.3 L298.8 862.1 L298.2 864.5 L303.9 866.7" stroke-width="2.04"/>
<path d="M303.9 866.7 C305.2 867.6 309.1 869.2 312 871.9 C314.9 874.6 318.3 878.5 321.2 882.8 C324.1 887.1 326.9 892.2 329.2 897.8 C331.5 903.4 333.9 910.5 335 916.2 C336.1 922 336.3 927.5 336.1 932.3 C335.9 937.1 334.2 942.8 333.8 944.9" stroke-width="2.04"/>
<path d="M333.8 944.9 L320 959.8 L315.4 961.6 L305.1 955.3 L294.7 949.5 L293 946 L293 936.9" stroke-width="2.04"/>
<path d="M293 936.9 C292.3 934.2 290.8 925.8 289 920.8 C287.2 915.8 284.4 910.5 282.1 907 C279.8 903.5 276.4 901.2 275.2 900.1" stroke-width="2.04"/>
<path d="M275.2 900.1 L275.2 881.7 L277.5 877.1" stroke-width="2.04"/>
<path d="M285 868.5 L290.5 871.5 L298.2 864.5" stroke-width="1.56"/>
<path d="M290.5 871.5 L288 874.5" stroke-width="1.56"/>
<path d="M277.5 877.1 L281 879.3 L289 887.5 L303.9 871.3" stroke-width="2.04"/>
<path d="M281 879.3 L282.5 903.5" stroke-width="2.04"/>
<path d="M278 880.5 L279.3 901" stroke-width="1.44"/>
<path d="M289 887.5 C289.1 889 289.3 893.6 289.6 896.5 C289.9 899.4 289.8 901.7 290.7 904.7 C291.6 907.7 293.4 911.2 295 914.5 C296.6 917.8 299.6 922.6 300.5 924.2" stroke-width="2.04"/>
<path d="M282.5 903.5 C283.5 904.7 286.5 907.5 288.5 910.5 C290.5 913.5 293 917.5 294.5 921.5 C296 925.5 296.8 929.6 297.5 934.5 C298.2 939.4 298.8 948.2 299 951" stroke-width="2.04"/>
<path d="M284.5 902.5 C285.7 904 288.8 907.9 291.5 911.5 C294.2 915.1 299 922.1 300.5 924.2" stroke-width="1.56"/>
<path d="M300.5 924.2 C301.2 925.9 303.4 930.1 304.5 934.5 C305.6 938.9 305.6 946.1 307.4 950.6 C309.2 955.1 314.1 959.8 315.4 961.6" stroke-width="2.04"/>
<path d="M302.5 927.5 C303.2 929.5 305.4 935.3 306.5 939.5 C307.6 943.7 308.4 950.3 308.8 952.5" stroke-width="1.44"/>
<path d="M294.2 903.5 L316 882.8" stroke-width="1.80"/>
<path d="M301 924.2 L327.5 898.9" stroke-width="1.80"/>
<path d="M312 947.2 L332.1 928.2" stroke-width="1.80"/>
<path d="M345.8 941.7 L345.8 921.6 L360.2 905 L370 903.8 L375.2 906.7" stroke-width="2.04"/>
<path d="M375.2 906.7 C376.6 907.8 380.8 909.9 383.8 913 C386.8 916.1 390.3 920.8 393 925.6 C395.7 930.4 398 936.1 399.9 941.7 C401.8 947.3 403.6 953 404.5 959 C405.4 965 405.5 972.6 405.6 977.4 C405.7 982.2 405.1 986 405 987.7" stroke-width="2.04"/>
<path d="M405 987.7 L398.1 991.7 L397.6 994.6 L386.1 1003.2 L381.5 1002.1 L374.6 995.8" stroke-width="2.04"/>
<path d="M374.6 995.8 L370 992.3 L363.1 986.6 L362.5 977.4" stroke-width="2.04"/>
<path d="M362.5 977.4 C361.8 975.1 360.1 968 358.5 963.6 C356.9 959.2 354.8 954.5 352.7 950.9 C350.6 947.2 346.9 943.2 345.8 941.7" stroke-width="2.04"/>
<path d="M345.8 921.6 L353.9 925.6 L370 910.7 L375.2 906.7" stroke-width="2.04"/>
<path d="M353.9 925.6 L354.5 945.2" stroke-width="2.04"/>
<path d="M350 924 L350.7 942" stroke-width="1.44"/>
<path d="M363 913 L368.8 907.2 L372.3 909" stroke-width="1.56"/>
<path d="M368.8 907.2 L368.5 904.5" stroke-width="1.56"/>
<path d="M354.5 945.2 C356.7 947.5 364.3 953.6 367.7 959 C371.1 964.4 373.3 971.7 374.6 977.4 C375.9 983.1 375.5 990.7 375.7 993.4" stroke-width="2.04"/>
<path d="M352.7 947.5 C354.6 950.2 361.1 957.9 364.2 963.6 C367.3 969.4 369.9 977.2 371.1 982 C372.4 986.8 371.6 990.6 371.7 992.3" stroke-width="1.68"/>
<path d="M350 946 C351.8 948.9 358.1 957.6 360.8 963.6 C363.6 969.6 365.5 977.8 366.5 982 C367.5 986.2 366.8 987.8 366.8 989" stroke-width="1.44"/>
<ellipse cx="377.1" cy="932" rx="5" ry="9" transform="rotate(33 377.1 932)" stroke-width="2.04"/>
<ellipse cx="391.6" cy="976.8" rx="5" ry="9" transform="rotate(33 391.6 976.8)" stroke-width="2.04"/>
<g transform="translate(253.8,111.6) rotate(27.5)" stroke-width="2.04">
<path d="M-4 -10.8 L-10.5 -10.8 L-15 -6 L-15.5 4 L-11.5 9.8 L-4 9.8" fill="#fff"/>
<path d="M-10.5 -10.8 L-9 -4.5 L-9.5 3.5 L-11.5 9.8 M-15 -6 L-9 -4.5 M-15.5 4 L-9.5 3.5 M-4 -4 L-9 -4.5 M-4 4 L-9.5 3.5"/>
<ellipse cx="-3.5" cy="0" rx="4.4" ry="11.8" fill="#fff"/>
<ellipse cx="-1" cy="0" rx="4.4" ry="11.8" fill="#fff"/>
<path d="M1 -6.8 L17 -6.8 A2.6 6.8 0 0 1 17 6.8 L1 6.8 A2.6 6.8 0 0 1 1 -6.8Z" fill="#fff"/>
<ellipse cx="1.5" cy="0" rx="3" ry="7.6"/>
<path d="M19.8 -5.9 A2.2 5.9 0 0 1 19.8 5.9 M22.3 -5.9 A2.2 5.9 0 0 1 22.3 5.9 M17 -5.9 L23.5 -5.9 M17 5.9 L23.5 5.9"/>
<path d="M23.5 -5.5 L63 -5.5 A3.2 5.5 0 0 1 63 5.5 L23.5 5.5"/>
<path d="M63 -5.5 A3.2 5.5 0 0 0 63 5.5" stroke-width="1.44"/>
<path d="M37 -2.8 L58 -2.8 A1.7 1.7 0 0 1 58 0.6 L37 0.6 A1.7 1.7 0 0 1 37 -2.8Z"/>
<path d="M39 -1.1 L57 -1.1" stroke-width="2.28"/>
</g>
<g transform="translate(301.0,73.4) rotate(27.5)" stroke-width="2.04">
<path d="M-4 -10.8 L-10.5 -10.8 L-15 -6 L-15.5 4 L-11.5 9.8 L-4 9.8" fill="#fff"/>
<path d="M-10.5 -10.8 L-9 -4.5 L-9.5 3.5 L-11.5 9.8 M-15 -6 L-9 -4.5 M-15.5 4 L-9.5 3.5 M-4 -4 L-9 -4.5 M-4 4 L-9.5 3.5"/>
<ellipse cx="-3.5" cy="0" rx="4.4" ry="11.8" fill="#fff"/>
<ellipse cx="-1" cy="0" rx="4.4" ry="11.8" fill="#fff"/>
<path d="M1 -6.8 L17 -6.8 A2.6 6.8 0 0 1 17 6.8 L1 6.8 A2.6 6.8 0 0 1 1 -6.8Z" fill="#fff"/>
<ellipse cx="1.5" cy="0" rx="3" ry="7.6"/>
<path d="M19.8 -5.9 A2.2 5.9 0 0 1 19.8 5.9 M22.3 -5.9 A2.2 5.9 0 0 1 22.3 5.9 M17 -5.9 L23.5 -5.9 M17 5.9 L23.5 5.9"/>
<path d="M23.5 -5.5 L63 -5.5 A3.2 5.5 0 0 1 63 5.5 L23.5 5.5"/>
<path d="M63 -5.5 A3.2 5.5 0 0 0 63 5.5" stroke-width="1.44"/>
<path d="M37 -2.8 L58 -2.8 A1.7 1.7 0 0 1 58 0.6 L37 0.6 A1.7 1.7 0 0 1 37 -2.8Z"/>
<path d="M39 -1.1 L57 -1.1" stroke-width="2.28"/>
</g>
<g transform="translate(418.5,98.3) rotate(-28.5)" stroke-width="1.80">
<path d="M0 -3.2 L5 -4 L12 -4.2 L24 -4.4 L29 -3.2 A2 3.2 0 0 1 29 3.2 L24 4.4 L12 4.2 L5 4 L0 3.2 A2 3.2 0 0 1 0 -3.2Z" fill="#fff"/>
<path d="M5 -4 A2 4 0 0 1 5 4 M9 -4.1 A2 4.1 0 0 1 9 4.1 M13 -4.2 A2 4.2 0 0 1 13 4.2 M17 -4.3 A2 4.3 0 0 1 17 4.3 M21 -4.4 A2 4.4 0 0 1 21 4.4 M25 -4.2 A2 4.2 0 0 1 25 4.2" stroke-width="2.28"/>
<path d="M14 -2 L20 -2 M14 1 L20 1" stroke-width="1.44"/>
</g>
<ellipse cx="452.5" cy="77.7" rx="5" ry="5.6" transform="rotate(0 452.5 77.7)" stroke-width="1.92"/>
<ellipse cx="456.8" cy="75.3" rx="4.2" ry="4.8" transform="rotate(0 456.8 75.3)" stroke-width="1.92"/>
<ellipse cx="451.5" cy="78.2" rx="2.4" ry="3" transform="rotate(0 451.5 78.2)" stroke-width="1.56"/>
<g transform="translate(493.3,181.5) rotate(26) scale(1.00)" stroke-width="1.92">
<path d="M-9 -9.5 A5 9.5 0 0 0 -9 9.5 L5 8.6 L12 5.6 A3 5.6 0 0 0 12 -5.6 L5 -8.6Z" fill="#fff"/>
<path d="M-8 -9.6 A4.6 9.6 0 0 1 -8 9.6" stroke-width="3.00"/>
<path d="M-4.3 -9.4 A4.6 9.4 0 0 1 -4.3 9.4" stroke-width="3.00"/>
<path d="M-0.6 -9.1 A4.5 9.1 0 0 1 -0.6 9.1" stroke-width="2.88"/>
<path d="M3 -8.8 A4.4 8.8 0 0 1 3 8.8" stroke-width="2.04"/>
<ellipse cx="11" cy="0" rx="3.3" ry="5.9" fill="#fff"/>
<ellipse cx="11.8" cy="0" rx="1.9" ry="3.5"/>
</g>
<ellipse cx="497.4" cy="243.6" rx="31" ry="20" transform="rotate(-58.6 497.4 243.6)" stroke-width="1.92"/>
<ellipse cx="497.1" cy="243.9" rx="28" ry="17" transform="rotate(-58.6 497.1 243.9)" stroke-width="1.92"/>
<path d="M525 234 L535 234.4 L565 250 C570 252 575 258 576 267 C577 280 571 293 563 299 C557 302.5 550 301 543 297.5 L535 299 L515 287 C507 281 502 273 502.6 264 C503 250 513 237 525 234Z" fill="#fff" stroke-width="2.04"/>
<ellipse cx="555.3" cy="275.6" rx="27.5" ry="18.5" transform="rotate(-60 555.3 275.6)" stroke-width="1.92"/>
<ellipse cx="557.5" cy="277.5" rx="24.5" ry="15.5" transform="rotate(-60 557.5 277.5)" stroke-width="1.80"/>
<ellipse cx="559.5" cy="280.5" rx="20.5" ry="12" transform="rotate(-60 559.5 280.5)" stroke-width="1.92" fill="#fff"/>
<path d="M533.5 270 C532 281 534 291 539.5 296" stroke-width="1.68"/>
<path d="M548.5 243.5 L556 246.5" stroke-width="2.64"/>
<ellipse cx="590" cy="297.3" rx="34.2" ry="22.8" transform="rotate(-58.5 590 297.3)" stroke-width="2.28" fill="#fff"/>
<ellipse cx="590.3" cy="297.6" rx="31.8" ry="20.4" transform="rotate(-58.5 590.3 297.6)" stroke-width="1.68"/>
<ellipse cx="591.2" cy="298.3" rx="27.8" ry="16.6" transform="rotate(-60 591.2 298.3)" stroke-width="3.96"/>
<ellipse cx="592" cy="298.9" rx="24" ry="13.4" transform="rotate(-61 592 298.9)" stroke-width="1.56"/>
<path d="M607.0 289.3 C605.0 303.3 597.0 314.3 586.0 320.3" stroke-width="1.56"/>
<g transform="translate(475.5,287.0) rotate(31.0)" stroke-width="2.04">
<path d="M-3 -8.2 L6 -8.2 L6 -6.1 L61 -6.1 A3.6 6.1 0 0 1 61 6.1 L6 6.1 L6 8.2 L-3 8.2 A3.4 8.2 0 0 1 -3 -8.2Z" fill="#fff"/>
<path d="M-0.5 -8.2 A3.4 8.2 0 0 0 -0.5 8.2 M6 -6.1 A2.8 6.1 0 0 0 6 6.1" stroke-width="1.80"/>
<ellipse cx="61" cy="0" rx="3.6" ry="6.1" fill="#fff"/>
<path d="M61.3 -3 L61.3 3 M58.8 0 L63.6 0" stroke-width="1.68"/>
</g>
<g transform="translate(548.8,424.5) rotate(30) scale(1.07)" stroke-width="1.98">
<path d="M-2 -10.5 L-8.5 -10.8 L-13 -6 L-13.5 4.5 L-9.5 10.3 L-2 10.5" fill="#fff"/>
<path d="M-8.5 -10.8 L-7.5 -4 L-8 4 L-9.5 10.3 M-13 -6 L-7.5 -4 M-13.5 4.5 L-8 4 M-2 -3.5 L-7.5 -4 M-2 4.5 L-8 4"/>
<ellipse cx="-1" cy="0" rx="4.8" ry="12.6" fill="#fff"/>
<ellipse cx="1.8" cy="0" rx="4.8" ry="12.6" fill="#fff"/>
<ellipse cx="4" cy="0" rx="3" ry="7.2"/>
<path d="M6 -6 L29 -6 A3.4 6 0 0 1 29 6 L6 6 A3 6 0 0 0 6 -6" fill="#fff"/>
<path d="M10 -6 A3 6 0 0 1 10 6 M13.5 -6 A3 6 0 0 1 13.5 6 M17 -6 A3 6 0 0 1 17 6 M20.5 -6 A3 6 0 0 1 20.5 6 M24 -6 A3 6 0 0 1 24 6" stroke-width="2.28"/>
<ellipse cx="29" cy="0" rx="3.4" ry="6" fill="#fff"/>
</g>
<ellipse cx="740.3" cy="322.5" rx="7.4" ry="8.3" transform="rotate(25 740.3 322.5)" stroke-width="2.04"/>
<g stroke-width="2.04">
<path d="M335 126.2 L342.5 119.5 L364 129.5 L360 134 L352 131 L345 133.5 L335 126.2" fill="#fff"/>
<path d="M335 126.2 L338 129.5 L346 133.3"/>
<path d="M321.5 149 L326.5 143.5 L334 147.5 L329.5 155.5 L322.5 153 L321.5 149" fill="#fff"/>
<path d="M326 151 L329.5 155.5" stroke-width="2.64"/>
<path d="M342.5 137.5 C335 143 329.5 152 328.5 163 C327.5 173 329 182 334 187.5 L343 192 L366 207.5 L380.5 217.5 L392 215 L404 209 L413 202.5" />
<path d="M342.5 137.5 L352 133 L362 137 L371 141" />
<path d="M352 139 C345 146 341 156 340.5 166 C340 176 343 186 349 193" stroke-width="1.68"/>
<path d="M357 141 C350 149 346.5 158 346.5 168 C346.5 180 351 190 358 198" stroke-width="1.68"/>
<path d="M363.7 122.5 L375 131.2"/>
<path d="M360 167 L366.5 171 L369.5 174" stroke-width="1.56"/>
<path d="M352 131 L365 137 L373 139" stroke-width="1.68"/>
<path d="M346 139.5 L360 146.5 L367 148.5" stroke-width="1.68"/>
<ellipse cx="388" cy="178" rx="29.5" ry="25" transform="rotate(-60 388 178)" stroke-width="2.16"/>
<ellipse cx="389.5" cy="178.5" rx="26.3" ry="21.5" transform="rotate(-60 389.5 178.5)" stroke-width="1.92"/>
<ellipse cx="391.5" cy="179.5" rx="23" ry="17.5" transform="rotate(-60 391.5 179.5)" stroke-width="1.80"/>
<path d="M366 183 C366 192 370 200 378 205 C384 208 392 207 399 203" stroke-width="2.88"/>
<path d="M371 187 C372 195 377 201 384 203" stroke-width="1.56"/>
<path d="M378.8 131.2 L372 141 L360 167 L363.5 176 L369.5 174 L372.5 166 L384 142 L389.5 133Z" stroke-width="2.04" fill="#fff"/>
<path d="M386 132.5 L380.5 142 L369 167.5" stroke-width="1.80"/>
<path d="M363.7 122.5 C363 113 367 104 374 100.5 C380 98 387 99.5 391.5 104 L395 111" />
<ellipse cx="385" cy="119.2" rx="8.8" ry="10.8" transform="rotate(10 385 119.2)" stroke-width="2.04" fill="#fff"/>
<ellipse cx="385.3" cy="119.4" rx="5.8" ry="7" transform="rotate(10 385.3 119.4)" stroke-width="1.92"/>
<path d="M374 100.5 C371 106 370.5 114 372.5 121 L377.5 128" stroke-width="1.68"/>
<path d="M368.3 106.5 C367.3 112 367.8 119 369.6 124.5" stroke-width="1.68"/>
<path d="M391.5 104 L402.5 114.5 L420 126.2 L450.3 147.4 C457 154 463 164 467.6 174.7 C472 185 476 198 477.6 213.4 C478 221 476 228 471 233 C466 238 456 241 448 242.5 C441 243.5 436.5 241 435.5 236 C434.5 230 437 224 441 219 L445.3 213.4" stroke-width="2.16"/>
<path d="M392 127.5 L399 135.5 L412 141.5 L426 148 L437 158" />
<path d="M397.5 113.5 L395.5 118 L401 120.5" stroke-width="1.56"/>
<path d="M418 186.1 L436 161.7 L443.2 164.6 L441.7 173.2 L420 184.5"/>
<path d="M415 167 L421 159 L431 163" stroke-width="1.80"/>
<path d="M412 158 L418 151 L428 154" stroke-width="1.80"/>
<path d="M443.2 164.6 C448 166 452 171 452.5 176" stroke-width="1.80"/>
<path d="M455 165 C457 170 457 176 455 181" stroke-width="1.80"/>
<path d="M438 181 C444 179 449 176 452.5 172" stroke-width="2.40"/>
<path d="M404 146 L411.5 156.5" stroke-width="2.64"/>
<path d="M410 150.5 L420.5 161.5" stroke-width="2.04"/>
<path d="M418 186.1 L424.5 193.3 L459 187.6 C464 187 467.5 190 468.3 194.8 C469 200 467 205 464.7 207.7 C461 213 456 217 451 220 C446 223 441 225 438.9 225" />
<path d="M428.8 193.3 L431.7 206.3 L445.3 213.4"/>
<path d="M444.6 191.9 L447.5 210.6"/>
<path d="M453.2 190.5 L446.5 212"/>
<path d="M456 191 L462 196" stroke-width="1.56"/>
<path d="M474 210 C474.5 216 473.5 222 471 226" stroke-width="3.60"/>
<path d="M455 231 C459 230 463 228 465 226" stroke-width="2.40"/>
<path d="M443 230.5 L443.5 236" stroke-width="1.80"/>
<ellipse cx="413" cy="207.8" rx="3.4" ry="3.8" transform="rotate(0 413 207.8)" stroke-width="1.80"/>
<path d="M404.4 209.5 C406 213.5 411 215.5 416 214 C420 212.5 422 208.5 422 204.5" />
<path d="M390.5 216 L401.5 212" stroke-width="1.80"/>
<path d="M419 186 L419.5 201" stroke-width="1.92"/>
<path d="M419.5 201 L424 205" stroke-width="1.80"/>
</g>
<g stroke-width="2.04">
<path d="M631 360 L621.2 338 L613.9 325 L614.8 320 L632.6 303.9 L648.9 289.2 L653.8 277 L663.5 268 L670 269 L686.2 279.5 L691 284.4 L709 294 L722 300.6 L726 307 L724.4 312 L717 320 L710.6 321.8 L709 316.9" stroke-width="2.16"/>
<path d="M631 360 C638 380 646 405 651 427.5 L652.8 434.5 L668.5 442.4 L677.2 439.8 L691.2 426 L719.2 441.5 L724.5 433" stroke-width="2.16"/>
<path d="M656.2 278.7 L661.9 282" stroke-width="1.80"/>
<path d="M651.3 290 L656.2 292.5" stroke-width="1.80"/>
<path d="M626 329.9 L629.4 325 L657 296.6 L661.9 290.9 L666 284.4 L670 284.4 L683 294 L684.6 301.4 L680.5 304.7 L676.5 301.4" stroke-width="2.04"/>
<path d="M666 284.4 L667.6 290 L676.5 296.6 L680.6 298.2" stroke-width="1.80"/>
<path d="M686.2 279.5 L681.4 290.9" stroke-width="1.80"/>
<path d="M691 284.4 L686.2 295.8 L684.6 301.4" stroke-width="1.80"/>
<path d="M691 284.4 L697.6 308.8" stroke-width="0.01"/>
<path d="M713.9 298.2 L710.6 302.2 L704 313.6 L702.5 308.8 L697.6 308.8 L684.6 331.5 L683 338" stroke-width="2.04"/>
<path d="M705.8 316 L707.4 321 L717 320" stroke-width="1.80"/>
<ellipse cx="717.5" cy="308.5" rx="3.6" ry="5.6" transform="rotate(25 717.5 308.5)" stroke-width="2.04"/>
<ellipse cx="714.2" cy="312.6" rx="2.2" ry="3" transform="rotate(25 714.2 312.6)" stroke-width="1.80"/>
<path d="M711 298.5 L717.5 301" stroke-width="2.88"/>
<path d="M687.9 334.8 L699.2 325 L703.3 329 L692 339.6" stroke-width="1.92"/>
<path d="M690.5 336.5 L701 327" stroke-width="1.56"/>
<path d="M676.5 301.4 L670 307.1 L670.8 312 L657.8 325 L657 341.2" stroke-width="1.92"/>
<path d="M680.5 304.7 L674.9 323.4 L663.5 344.5 L683 355.9 L686.5 349" stroke-width="1.92"/>
<path d="M626 329.9 L633.4 331.5 L635 326.6 L640 325 L641.5 328.2 L637.5 331.5 L657 341.2" stroke-width="1.92"/>
<path d="M626 329.9 C628 338 632 349 637.5 360 C646 382 656 408 663.2 429.2" />
<path d="M657 341.2 C660 357 666 376 670.2 389 L673.8 397.8" />
<path d="M673.6 399 L672 419" stroke-width="1.80" stroke-dasharray="12 3"/>
<path d="M654.5 389 L682.5 361" stroke-width="1.80" stroke-dasharray="9 3"/>
<path d="M675.5 392.5 L687.8 381 L703.5 390.8 L701.8 394.2 L686 403 L675.5 392.5" stroke-width="2.04"/>
<path d="M687.8 381 L693 383.8 L696.5 380.2" stroke-width="1.80"/>
<path d="M696.5 372 L703 376 L700 381 L694.5 377.5" stroke-width="1.80"/>
<path d="M686 338 C688 345 692 353 700 361 C706 367 712 374 716 383 C720 392 724 404 725.4 413.5 C726 422 725 432 719.2 441.5" stroke-width="2.16"/>
<path d="M694.8 366.2 C700 369 705 375 708 382 C711 390 712.5 402 712.2 413.5 C712 421 710 427 707 431" stroke-width="1.80"/>
<path d="M700 361 L710.5 362.8 C716 367 719 373 721 378.5 C724 386 725.4 392 725.8 397.8 C726.6 406 727 414 726.2 420.5 L724.5 434.5" stroke-width="1.92"/>
<path d="M700 358.4 L707 355.8 L714 357.5 L754.2 382 L756 390.8 L755.1 401.2 L750.8 404.8" stroke-width="2.16"/>
<path d="M707 355.8 L710.5 361.9 L745.5 383.8 L754.2 382" stroke-width="1.92"/>
<path d="M745.5 383.8 L740.2 390.8 L742 399.5 L750.8 404.8" stroke-width="1.92"/>
<path d="M751.5 388.5 C747 387 744 390 744.2 394 C744.5 398 747.5 399.5 751 398" stroke-width="2.04"/>
<path d="M724.5 380.2 L740.2 390.8" stroke-width="1.80"/>
<path d="M728 387.2 L738.5 394.2" stroke-width="2.88"/>
<path d="M729.8 394.2 L738.5 399.5" stroke-width="2.64"/>
<path d="M728 399.5 L735 404.8 L728 410" stroke-width="1.80"/>
<path d="M739.4 417 L752.5 407.4 L756.9 409.1 L756 413.5 L743.8 422.2 L739.4 417" stroke-width="2.04" fill="#fff"/>
<path d="M741 419 L753.5 410" stroke-width="1.56"/>
<path d="M726.2 427.5 L740.2 419.6" stroke-width="1.80"/>
<path d="M678.5 423.5 C673.5 421.5 670 424 669.5 428.5 C669.2 433.5 673 436 677.5 433.5" stroke-width="2.16"/>
</g>
<g transform="translate(569.5,854.0) rotate(26) scale(1.00)" stroke-width="1.92">
<path d="M-9 -9.5 A5 9.5 0 0 0 -9 9.5 L5 8.6 L12 5.6 A3 5.6 0 0 0 12 -5.6 L5 -8.6Z" fill="#fff"/>
<path d="M-8 -9.6 A4.6 9.6 0 0 1 -8 9.6" stroke-width="3.00"/>
<path d="M-4.3 -9.4 A4.6 9.4 0 0 1 -4.3 9.4" stroke-width="3.00"/>
<path d="M-0.6 -9.1 A4.5 9.1 0 0 1 -0.6 9.1" stroke-width="2.88"/>
<path d="M3 -8.8 A4.4 8.8 0 0 1 3 8.8" stroke-width="2.04"/>
<ellipse cx="11" cy="0" rx="3.3" ry="5.9" fill="#fff"/>
<ellipse cx="11.8" cy="0" rx="1.9" ry="3.5"/>
</g>
<ellipse cx="591.5" cy="908.3" rx="31" ry="20" transform="rotate(-58.6 591.5 908.3)" stroke-width="1.92"/>
<ellipse cx="591.3" cy="908.5" rx="28" ry="17" transform="rotate(-58.6 591.3 908.5)" stroke-width="1.92"/>
<ellipse cx="638.7" cy="937.2" rx="34.2" ry="22.8" transform="rotate(-58.5 638.7 937.2)" stroke-width="2.28" fill="#fff"/>
<ellipse cx="639" cy="937.5" rx="31.8" ry="20.4" transform="rotate(-58.5 639 937.5)" stroke-width="1.68"/>
<ellipse cx="639.9" cy="938.2" rx="27.8" ry="16.6" transform="rotate(-60 639.9 938.2)" stroke-width="3.96"/>
<ellipse cx="640.7" cy="938.8" rx="24" ry="13.4" transform="rotate(-61 640.7 938.8)" stroke-width="1.56"/>
<path d="M655.7 929.2 C653.7 943.2 645.7 954.2 634.7 960.2" stroke-width="1.56"/>
<g transform="translate(559.0,946.5) rotate(27.0)" stroke-width="2.04">
<path d="M-3 -8.2 L6 -8.2 L6 -6.1 L60 -6.1 A3.6 6.1 0 0 1 60 6.1 L6 6.1 L6 8.2 L-3 8.2 A3.4 8.2 0 0 1 -3 -8.2Z" fill="#fff"/>
<path d="M-0.5 -8.2 A3.4 8.2 0 0 0 -0.5 8.2 M6 -6.1 A2.8 6.1 0 0 0 6 6.1" stroke-width="1.80"/>
<ellipse cx="60" cy="0" rx="3.6" ry="6.1" fill="#fff"/>
<path d="M60.3 -3 L60.3 3 M57.8 0 L62.6 0" stroke-width="1.68"/>
</g>
<ellipse cx="699.7" cy="928.6" rx="7.2" ry="8.6" transform="rotate(20 699.7 928.6)" stroke-width="2.04"/>
<path d="M694.5 934 C692.5 931 692.8 926 695 922.5" stroke-width="3.12"/>
<path d="M699.7 837.7 L722 824.6 L770.6 852.7 L747 865.2Z" stroke-width="2.04"/>
<path d="M704.5 838 L722 828 L764.5 852.5 L747 861.8Z" stroke-width="1.44"/>
<path d="M720 847 L733 854.5" stroke-width="2.40"/>
<path d="M731 839.5 L737 840.5 L744 844" stroke-width="1.68"/>
<path d="M733 855.5 L746.5 863.5" stroke-width="2.64"/>
<path d="M746.5 863.5 L765 853.5" stroke-width="1.56"/>
<path d="M14 1023.5 L20.5 1009.5 L24.5 1014 L43.5 1003.5 L47.5 1010 L28.5 1020.5 L31.5 1026Z" stroke-width="1.92"/>
</svg>
</body></html>
